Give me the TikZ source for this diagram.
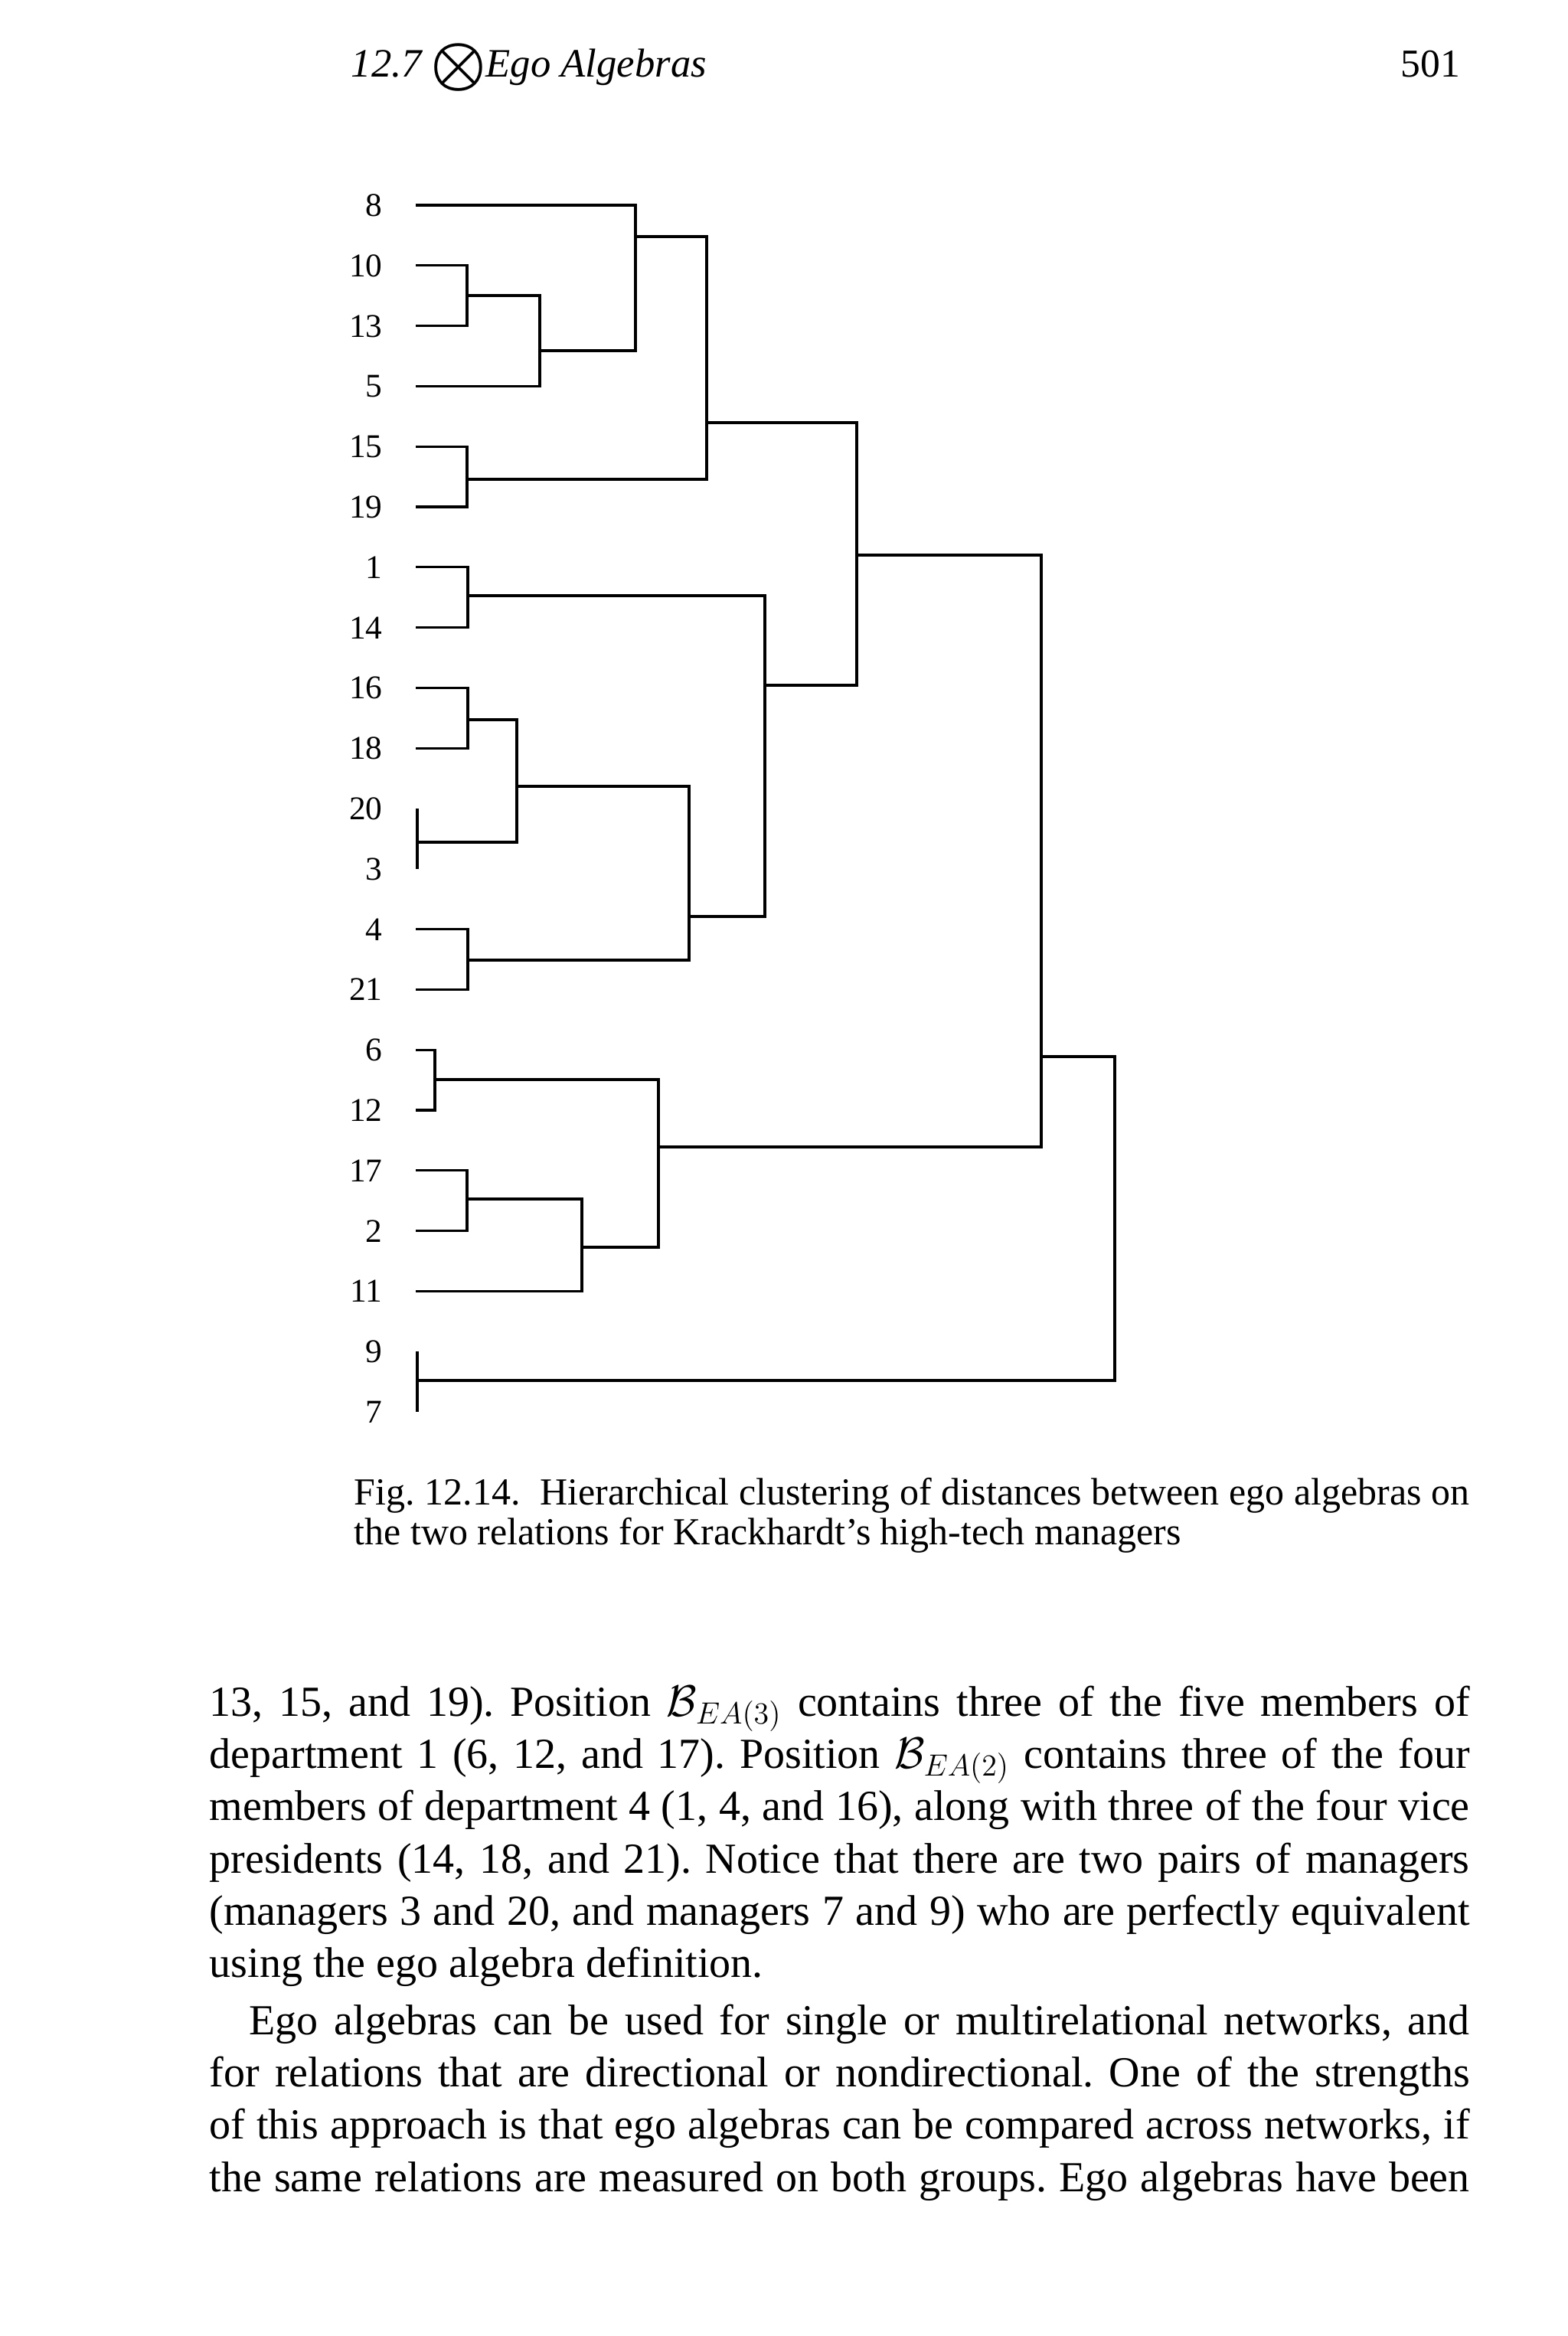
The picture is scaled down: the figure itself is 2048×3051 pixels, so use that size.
\documentclass[tikz,border=0pt]{standalone}
\usepackage{fontspec}
\setmainfont{Liberation Serif}
\usepackage{graphicx}
\frenchspacing
\begin{document}
\begin{tikzpicture}[x=0.3pt,y=-0.3pt,
  lbl/.style={anchor=base east, inner sep=0pt, font=\fontsize{13}{15}\selectfont},
  den/.style={line width=1pt, line join=miter},
  bodytxt/.style={anchor=base west, inner sep=0pt, font=\fontsize{16.8}{20}\selectfont},
  captxt/.style={anchor=base west, inner sep=0pt, font=\fontsize{15}{18}\selectfont},
  headtxt/.style={anchor=base west, inner sep=0pt, font=\fontsize{15.8}{18}\selectfont\itshape}]
\path[use as bounding box] (0,0) rectangle (2048,3051);
% header
\node[headtxt] (hnum) at (458,100) {12.7};
\node[inner sep=0pt] (hsym) at (599,88) {\fontsize{15.8}{18}\selectfont\scalebox{1.7}{\boldmath$\otimes$}};
\node[headtxt] (htitle) at (634,100) {Ego Algebras};
\node[anchor=base east, inner sep=0pt, font=\fontsize{15.5}{18}\selectfont] (page) at (1908,100) {501};
% leaves
\foreach \n/\i in {8/0,10/1,13/2,5/3,15/4,19/5,1/6,14/7,16/8,18/9,20/10,3/11,4/12,21/13,6/14,12/15,17/16,2/17,11/18,9/19,7/20}{
  \pgfmathsetmacro\yy{268+78.8*\i}
  \node[lbl] (l\n) at (500,\yy+14.5) {\n};
  \coordinate (p\n) at (543,\yy);
}
% merge points
\coordinate (A) at (610,386);
\coordinate (B) at (705,458);
\coordinate (C) at (830,309);
\coordinate (D) at (610,626);
\coordinate (E) at (923,552);
\coordinate (F) at (611,778);
\coordinate (G) at (611,940);
\coordinate (H) at (545,1100);
\coordinate (I) at (675,1027);
\coordinate (J) at (611,1254);
\coordinate (K) at (900,1197);
\coordinate (L) at (999,895);
\coordinate (M) at (1119,725);
\coordinate (N) at (568,1410);
\coordinate (O) at (610,1566);
\coordinate (P) at (760,1629);
\coordinate (Q) at (860,1498);
\coordinate (R) at (1360,1380);
\coordinate (S) at (545,1803);
\coordinate (T) at (1456,1380);
% brackets
\draw[den] (p10) -- (p10 -| A) -- (p13 -| A) -- (p13);
\draw[den] (A) -- (A -| B) -- (p5 -| B) -- (p5);
\draw[den] (p8) -- (p8 -| C) -- (B -| C) -- (B);
\draw[den] (p15) -- (p15 -| D) -- (p19 -| D) -- (p19);
\draw[den] (C) -- (C -| E) -- (D -| E) -- (D);
\draw[den] (p1) -- (p1 -| F) -- (p14 -| F) -- (p14);
\draw[den] (p16) -- (p16 -| G) -- (p18 -| G) -- (p18);
\draw[den] (p20 -| H) -- (p3 -| H);
\draw[den] (G) -- (G -| I) -- (H -| I) -- (H);
\draw[den] (p4) -- (p4 -| J) -- (p21 -| J) -- (p21);
\draw[den] (I) -- (I -| K) -- (J -| K) -- (J);
\draw[den] (F) -- (F -| L) -- (K -| L) -- (K);
\draw[den] (E) -- (E -| M) -- (L -| M) -- (L);
\draw[den] (p6) -- (p6 -| N) -- (p12 -| N) -- (p12);
\draw[den] (p17) -- (p17 -| O) -- (p2 -| O) -- (p2);
\draw[den] (O) -- (O -| P) -- (p11 -| P) -- (p11);
\draw[den] (N) -- (N -| Q) -- (P -| Q) -- (P);
\draw[den] (M) -- (M -| R) -- (Q -| R) -- (Q);
\draw[den] (p9 -| S) -- (p7 -| S);
\draw[den] (R) -- (R -| T) -- (S -| T) -- (S);
% caption
\node[captxt] (cap1) at (462,1965) {\makebox[437.1pt][s]{Fig. 12.14.\ \ Hierarchical clustering of distances between ego algebras on}};
\node[captxt] (cap2) at (462,2017) {the two relations for Krackhardt's high-tech managers};
% body text
\node[bodytxt] (b1) at (273,2241) {\makebox[493.8pt][s]{13, 15, and 19).\ Position $\mathcal{B}_{EA(3)}$ contains three of the five members of}};
\node[bodytxt] (b2) at (273,2309.5) {\makebox[493.8pt][s]{department 1 (6, 12, and 17). Position $\mathcal{B}_{EA(2)}$ contains three of the four}};
\node[bodytxt] (b3) at (273,2377.8) {\makebox[493.8pt][s]{members of department 4 (1, 4, and 16), along with three of the four vice}};
\node[bodytxt] (b4) at (273,2446) {\makebox[493.8pt][s]{presidents (14, 18, and 21). Notice that there are two pairs of managers}};
\node[bodytxt] (b5) at (273,2514) {\makebox[493.8pt][s]{(managers 3 and 20, and managers 7 and 9) who are perfectly equivalent}};
\node[bodytxt] (b6) at (273,2582) {using the ego algebra definition.};
\node[bodytxt] (b7) at (325,2657) {\makebox[478.2pt][s]{Ego algebras can be used for single or multirelational networks, and}};
\node[bodytxt] (b8) at (273,2725.5) {\makebox[493.8pt][s]{for relations that are directional or nondirectional. One of the strengths}};
\node[bodytxt] (b9) at (273,2793.8) {\makebox[493.8pt][s]{of this approach is that ego algebras can be compared across networks, if}};
\node[bodytxt] (b10) at (273,2862) {\makebox[493.8pt][s]{the same relations are measured on both groups. Ego algebras have been}};
\end{tikzpicture}
\end{document}
